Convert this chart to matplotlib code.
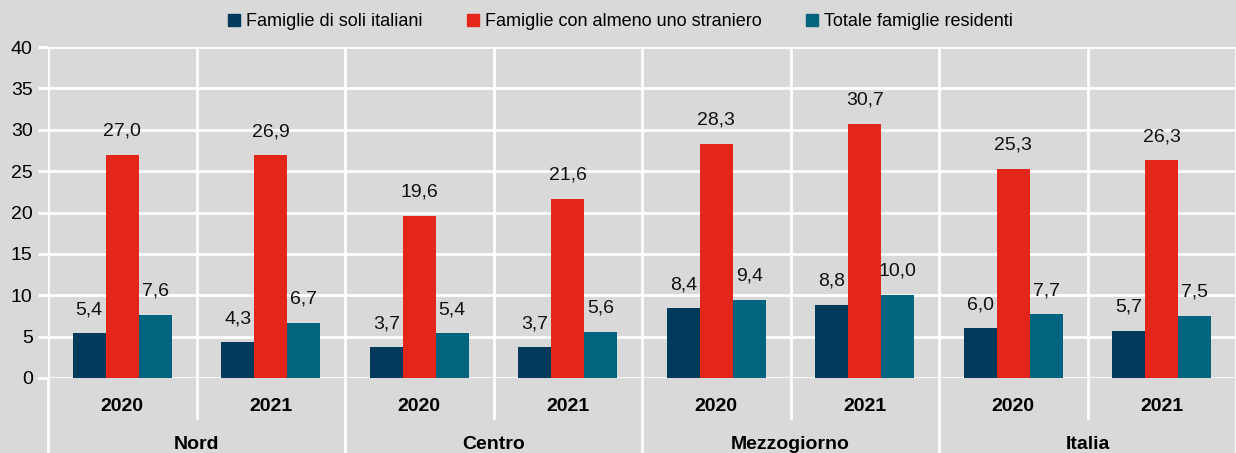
import matplotlib.pyplot as plt
from matplotlib.lines import Line2D
import numpy as np

# Data
regions = ['Nord', 'Centro', 'Mezzogiorno', 'Italia']
years = ['2020', '2021']
series_names = ['Famiglie di soli italiani', 'Famiglie con almeno uno straniero', 'Totale famiglie residenti']
solo_italiani = [5.4, 4.3, 3.7, 3.7, 8.4, 8.8, 6.0, 5.7]
almeno_uno_straniero = [27.0, 26.9, 19.6, 21.6, 28.3, 30.7, 25.3, 26.3]
totale_famiglie = [7.6, 6.7, 5.4, 5.6, 9.4, 10.0, 7.7, 7.5]
yticks = [0, 5, 10, 15, 20, 25, 30, 35, 40]

colors = ['#023a5b', '#e4261a', '#02647f']
BG = '#d9d9d9'

plt.rcParams['font.family'] = ['Liberation Sans Narrow', 'Liberation Sans', 'DejaVu Sans']

fig = plt.figure(figsize=(12.36, 4.53), dpi=100, facecolor=BG)
ax = fig.add_axes([48 / 1236, 1 - 378 / 453, 1 - 48 / 1236, (378 - 47) / 453])
ax.set_facecolor(BG)

n = len(solo_italiani)
x = np.arange(n)
w = 0.222
all_series = [solo_italiani, almeno_uno_straniero, totale_famiglie]
for i, vals in enumerate(all_series):
    pos = x + (i - 1) * w
    ax.bar(pos, vals, width=w, color=colors[i], zorder=3)
    for p, v in zip(pos, vals):
        ax.annotate(f'{v:.1f}'.replace('.', ','), (p, v), xytext=(0, 11),
                    textcoords='offset points', ha='center', va='bottom',
                    fontsize=14, color='#111111')

ax.set_xlim(-0.5, n - 0.5)
ax.set_ylim(0, 40)
ax.set_yticks(yticks)
ax.set_xticks([])
ax.tick_params(axis='y', length=7, width=2, color='white', labelsize=14, pad=4)
for s in ax.spines.values():
    s.set_visible(False)
for t in yticks:
    ax.axhline(t, color='white', lw=2, zorder=1)

# vertical separators
trans = ax.get_xaxis_transform()
for k in range(n + 1):
    xv = k - 0.5
    ax.plot([xv, xv], [0, 1], color='white', lw=2, transform=trans, zorder=1)
    bottom = -0.12 if k % 2 == 1 else -0.3
    ax.plot([xv, xv], [0, bottom], color='white', lw=2, transform=trans,
            clip_on=False, zorder=1)

# category labels
for k in range(n):
    ax.text(k, -0.085, years[k % 2], transform=trans, ha='center', va='center',
            fontsize=14, fontweight='bold')
for r, name in enumerate(regions):
    ax.text(2 * r + 0.5, -0.2, name, transform=trans, ha='center', va='center',
            fontsize=14, fontweight='bold')

handles = [Line2D([], [], marker='s', ls='', color=c, markersize=8) for c in colors]
fig.legend(handles, series_names, loc='center', bbox_to_anchor=(0.5, 1 - 22 / 453),
           ncol=3, frameon=False, fontsize=13, handletextpad=0.05, handlelength=1.2,
           columnspacing=2.2)

fig.savefig('out.png', dpi=100, facecolor=BG)
